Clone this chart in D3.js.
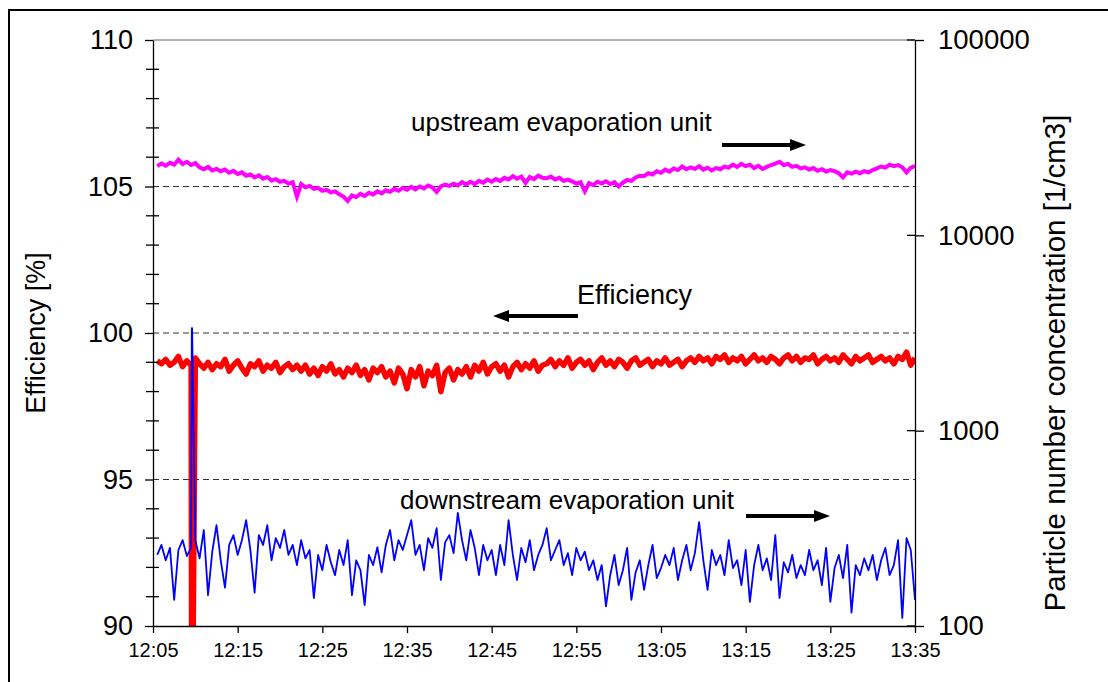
<!DOCTYPE html>
<html>
<head>
<meta charset="utf-8">
<script src="https://cdn.jsdelivr.net/npm/d3@7"></script>
<style>
  html, body { margin: 0; padding: 0; background: #fff; }
  svg { display: block; font-family: "Liberation Sans", Arial, sans-serif; }
</style>
</head>
<body>
<svg id="chart" width="1108" height="682"></svg>
<script>
// ---------------- DATA ----------------
const xTickLabels = ["12:05","12:15","12:25","12:35","12:45","12:55","13:05","13:15","13:25","13:35"];
const leftTicks = [90, 95, 100, 105, 110];
const rightTicks = [100, 1000, 10000, 100000];
const sampleStart = "12:05:30";
const sampleStepSec = 30;

// upstream evaporation unit, particle number concentration [1/cm3]
const upstream = [
  22600,23300,22700,23500,23000,24400,23200,23800,22900,23400,
  22300,21800,22400,21500,21900,21300,21700,20900,
  21400,20600,21000,20200,
  20500,19800,20300,19500,19900,19100,
  19400,18800,19000,18400,18700,15800,
  18300,17600,17900,17300,
  17500,16900,17100,16600,16800,
  16200,15800,15000,
  16000,15700,16300,15900,16500,
  16200,16800,16400,17000,16700,17300,
  16900,17500,17100,17700,17200,17800,
  17400,18000,17600,16700,17800,18200,
  17900,18400,18000,18700,18200,18800,
  18300,19000,18600,19300,18800,19400,
  19000,19700,19300,20100,
  19500,20000,18600,19900,19400,20200,19700,
  19600,20000,19300,19700,19000,19300,
  18900,18400,18700,16800,
  18500,18100,18800,18400,
  18900,18300,18700,17800,18600,
  19200,19000,19800,20200,
  20100,20800,20500,21300,20900,21700,
  21200,22000,21600,22500,21800,22300,
  21900,22600,21700,22200,21500,22100,
  21800,22500,22200,23000,22400,23200,
  22600,23000,22100,22700,21900,22400,
  22900,23300,23800,
  22900,23200,22400,22700,22000,
  22300,21700,22100,21400,21800,21200,21600,
  21300,20800,19800,21000,20700,
  21200,20800,21300,21000,
  21600,22000,22500,22200,23000,
  22600,22900,22300,21000,22200,
  22600
];

// downstream evaporation unit, particle number concentration [1/cm3]
const downstream = [
  231,260,217,251,136,245,275,228,
  251,275,222,310,144,240,328,217,157,260,292,231,
  275,348,245,148,292,260,328,217,282,251,310,
  231,260,205,275,222,245,
  139,231,193,260,212,182,245,205,275,144,217,193,128,231,205,253,188,
  260,310,217,275,245,292,348,231,260,193,282,251,317,172,268,292,236,379,275,217,310,251,182,260,
  217,245,182,260,205,348,231,172,251,212,275,193,
  231,260,317,217,245,275,205,236,182,251,217,240,
  193,217,172,205,126,182,231,162,193,251,136,188,217,153,205,260,176,198,
  231,205,251,172,217,260,193,236,340,217,153,245,
  205,231,182,275,198,217,162,245,133,205,260,193,222,172,292,139,212,188,231,176,
  205,182,245,193,217,162,251,133,198,231,176,260,117,205,182,222,
  193,231,172,217,251,182,205,275,110,282,245,136
];

// Efficiency [%]
const efficiency = [
  99.05,98.95,99.1,98.9,99.0,99.2,98.85,99.05,98.9,99.15,98.95,
  98.8,99.0,98.75,98.95,98.85,99.1,98.7,98.9,99.05,98.8,98.6,98.95,98.85,99.05,98.7,98.9,98.8,99.0,98.65,98.85,98.95,98.75,98.9,
  98.7,98.9,98.6,98.8,98.55,98.85,98.7,98.95,98.6,98.75,98.5,98.8,98.65,98.9,98.55,98.75,98.4,98.8,98.65,98.85,98.5,98.7,
  98.3,98.8,98.6,98.1,98.75,98.5,98.85,98.2,98.7,98.55,98.9,98.0,98.65,98.8,98.4,98.75,98.6,98.85,98.5,
  98.9,98.7,99.0,98.6,98.85,98.95,98.7,98.9,98.5,98.85,99.0,98.75,98.95,98.8,99.05,98.7,98.9,
  98.95,99.1,98.85,99.05,98.9,99.15,98.8,99.0,99.1,98.9,99.05,98.75,99.0,99.15,98.9,99.05,98.85,99.1,99.0,98.8,
  99.05,99.15,98.9,99.0,99.1,98.85,99.05,98.95,99.15,98.9,99.0,99.1,98.85,99.05,99.15,
  99.0,99.2,99.05,99.15,98.95,99.2,99.1,99.25,99.0,99.15,
  99.05,99.2,98.95,99.1,99.25,99.05,99.15,99.0,99.2,99.1,
  98.95,99.15,99.25,99.05,99.2,99.0,99.15,99.1,99.25,98.95,
  99.1,99.2,99.05,99.15,99.0,99.25,99.1,98.95,99.2,99.05,
  99.15,99.25,99.0,99.1,99.2,99.05,99.15,98.95,99.2,99.1,
  99.35,98.9,99.15
];

// short event around 12:09:36
const spikeTimes = ["12:09:35", "12:09:37"];
const spikeDownstream = [3350, 3350];
const spikeEfficiency = [85, 85];

// ---------------- CHART ----------------
const svg = d3.select("#chart");
const m = { left: 153, right: 915, top: 40, bottom: 626 };
const FONT = "Liberation Sans, Arial, sans-serif";

const parseHM = d3.timeParse("%H:%M");
const parseHMS = d3.timeParse("%H:%M:%S");
const t0 = parseHMS(sampleStart);
const times = upstream.map((_, i) => new Date(t0.getTime() + i * sampleStepSec * 1000));

const x = d3.scaleTime()
  .domain([parseHM(xTickLabels[0]), parseHM(xTickLabels[xTickLabels.length - 1])])
  .range([m.left, m.right]);
const yL = d3.scaleLinear().domain([90, 110]).range([m.bottom, m.top]);
const yR = d3.scaleLog().domain([100, 100000]).range([m.bottom, m.top]);

function series(vals, spikeVals) {
  const pts = vals.map((v, i) => ({ t: times[i], v }));
  if (spikeVals) spikeTimes.forEach((s, k) => pts.push({ t: parseHMS(s), v: spikeVals[k] }));
  pts.sort((a, b) => a.t - b.t);
  return pts;
}

// outer frame
svg.append("rect").attr("x", 9).attr("y", 10).attr("width", 1200).attr("height", 800)
  .attr("fill", "none").attr("stroke", "#000").attr("stroke-width", 2);

// gridlines
svg.append("g").selectAll("line").data([95, 100, 105]).join("line")
  .attr("x1", m.left).attr("x2", m.right)
  .attr("y1", d => yL(d)).attr("y2", d => yL(d))
  .attr("stroke", "#333").attr("stroke-width", 1).attr("stroke-dasharray", "6,4");
svg.append("line").attr("x1", m.left).attr("x2", m.right)
  .attr("y1", yL(110)).attr("y2", yL(110))
  .attr("stroke", "#666").attr("stroke-width", 1);

// clip
svg.append("clipPath").attr("id", "plotclip").append("rect")
  .attr("x", m.left).attr("y", m.top).attr("width", m.right - m.left).attr("height", m.bottom - m.top);
const plot = svg.append("g").attr("clip-path", "url(#plotclip)");

const lineL = d3.line().x(d => x(d.t)).y(d => yL(d.v));
const lineR = d3.line().x(d => x(d.t)).y(d => yR(d.v));

plot.append("path").datum(series(efficiency, spikeEfficiency))
  .attr("d", lineL).attr("fill", "none").attr("stroke", "#ff0000")
  .attr("stroke-width", 5.5).attr("stroke-linejoin", "round");
plot.append("path").datum(series(upstream))
  .attr("d", lineR).attr("fill", "none").attr("stroke", "#ff00ff")
  .attr("stroke-width", 4).attr("stroke-linejoin", "miter");
plot.append("path").datum(series(downstream, spikeDownstream))
  .attr("d", lineR).attr("fill", "none").attr("stroke", "#0000ff")
  .attr("stroke-width", 1.8).attr("stroke-linejoin", "round");

// axes
function styleAxis(g) {
  g.select(".domain").attr("stroke", "#000").attr("stroke-width", 1.3);
  g.selectAll(".tick line").attr("stroke", "#000").attr("stroke-width", 1.3);
}
const leftAx = svg.append("g").attr("transform", `translate(${m.left},0)`)
  .call(d3.axisLeft(yL).tickValues(leftTicks).tickSize(8).tickSizeOuter(0).tickPadding(12).tickFormat(d3.format("d")));
styleAxis(leftAx);
leftAx.selectAll("text").attr("font-size", 27).attr("fill", "#000").attr("font-family", FONT);

const minorVals = d3.range(91, 110).filter(v => v % 5 !== 0);
svg.append("g").selectAll("line").data(minorVals).join("line")
  .attr("x1", m.left - 7).attr("x2", m.left + 6)
  .attr("y1", d => yL(d)).attr("y2", d => yL(d))
  .attr("stroke", "#000").attr("stroke-width", 1.3);

const rightAx = svg.append("g").attr("transform", `translate(${m.right},0)`)
  .call(d3.axisRight(yR).tickValues(rightTicks).tickSize(9).tickSizeOuter(0).tickPadding(14).tickFormat(d3.format("d")));
styleAxis(rightAx);
rightAx.selectAll("text").attr("font-size", 27.5).attr("fill", "#000").attr("font-family", FONT);
svg.append("g").selectAll("line").data(rightTicks).join("line")
  .attr("x1", m.right - 8).attr("x2", m.right)
  .attr("y1", d => yR(d)).attr("y2", d => yR(d))
  .attr("stroke", "#000").attr("stroke-width", 1.3);

const bottomAx = svg.append("g").attr("transform", `translate(0,${m.bottom})`)
  .call(d3.axisBottom(x).tickValues(xTickLabels.map(parseHM)).tickSize(7).tickSizeOuter(0).tickPadding(10).tickFormat(d3.timeFormat("%H:%M")));
styleAxis(bottomAx);
bottomAx.selectAll("text").attr("font-size", 20).attr("fill", "#000").attr("font-family", FONT);

// axis titles
svg.append("text").attr("transform", `translate(45,333) rotate(-90)`)
  .attr("text-anchor", "middle").attr("font-size", 27).text("Efficiency [%]");
svg.append("text").attr("transform", `translate(1065,363) rotate(-90)`)
  .attr("text-anchor", "middle").attr("font-size", 29.5).text("Particle number concentration [1/cm3]");

// annotations
function arrow(x1, x2, y) {
  const dir = x2 > x1 ? 1 : -1;
  const headLen = 16, headHalf = 6;
  svg.append("line").attr("x1", x1).attr("x2", x2 - dir * headLen).attr("y1", y).attr("y2", y)
    .attr("stroke", "#000").attr("stroke-width", 4);
  svg.append("path")
    .attr("d", `M${x2},${y} L${x2 - dir * headLen},${y - headHalf} L${x2 - dir * headLen},${y + headHalf} Z`)
    .attr("fill", "#000");
}
svg.append("text").attr("x", 411).attr("y", 131).attr("font-size", 26).text("upstream evaporation unit");
arrow(722, 806, 145);
svg.append("text").attr("x", 577).attr("y", 304).attr("font-size", 27).text("Efficiency");
arrow(578, 493, 316);
svg.append("text").attr("x", 400).attr("y", 509).attr("font-size", 26).text("downstream evaporation unit");
arrow(746, 830, 516);
</script>
</body>
</html>
